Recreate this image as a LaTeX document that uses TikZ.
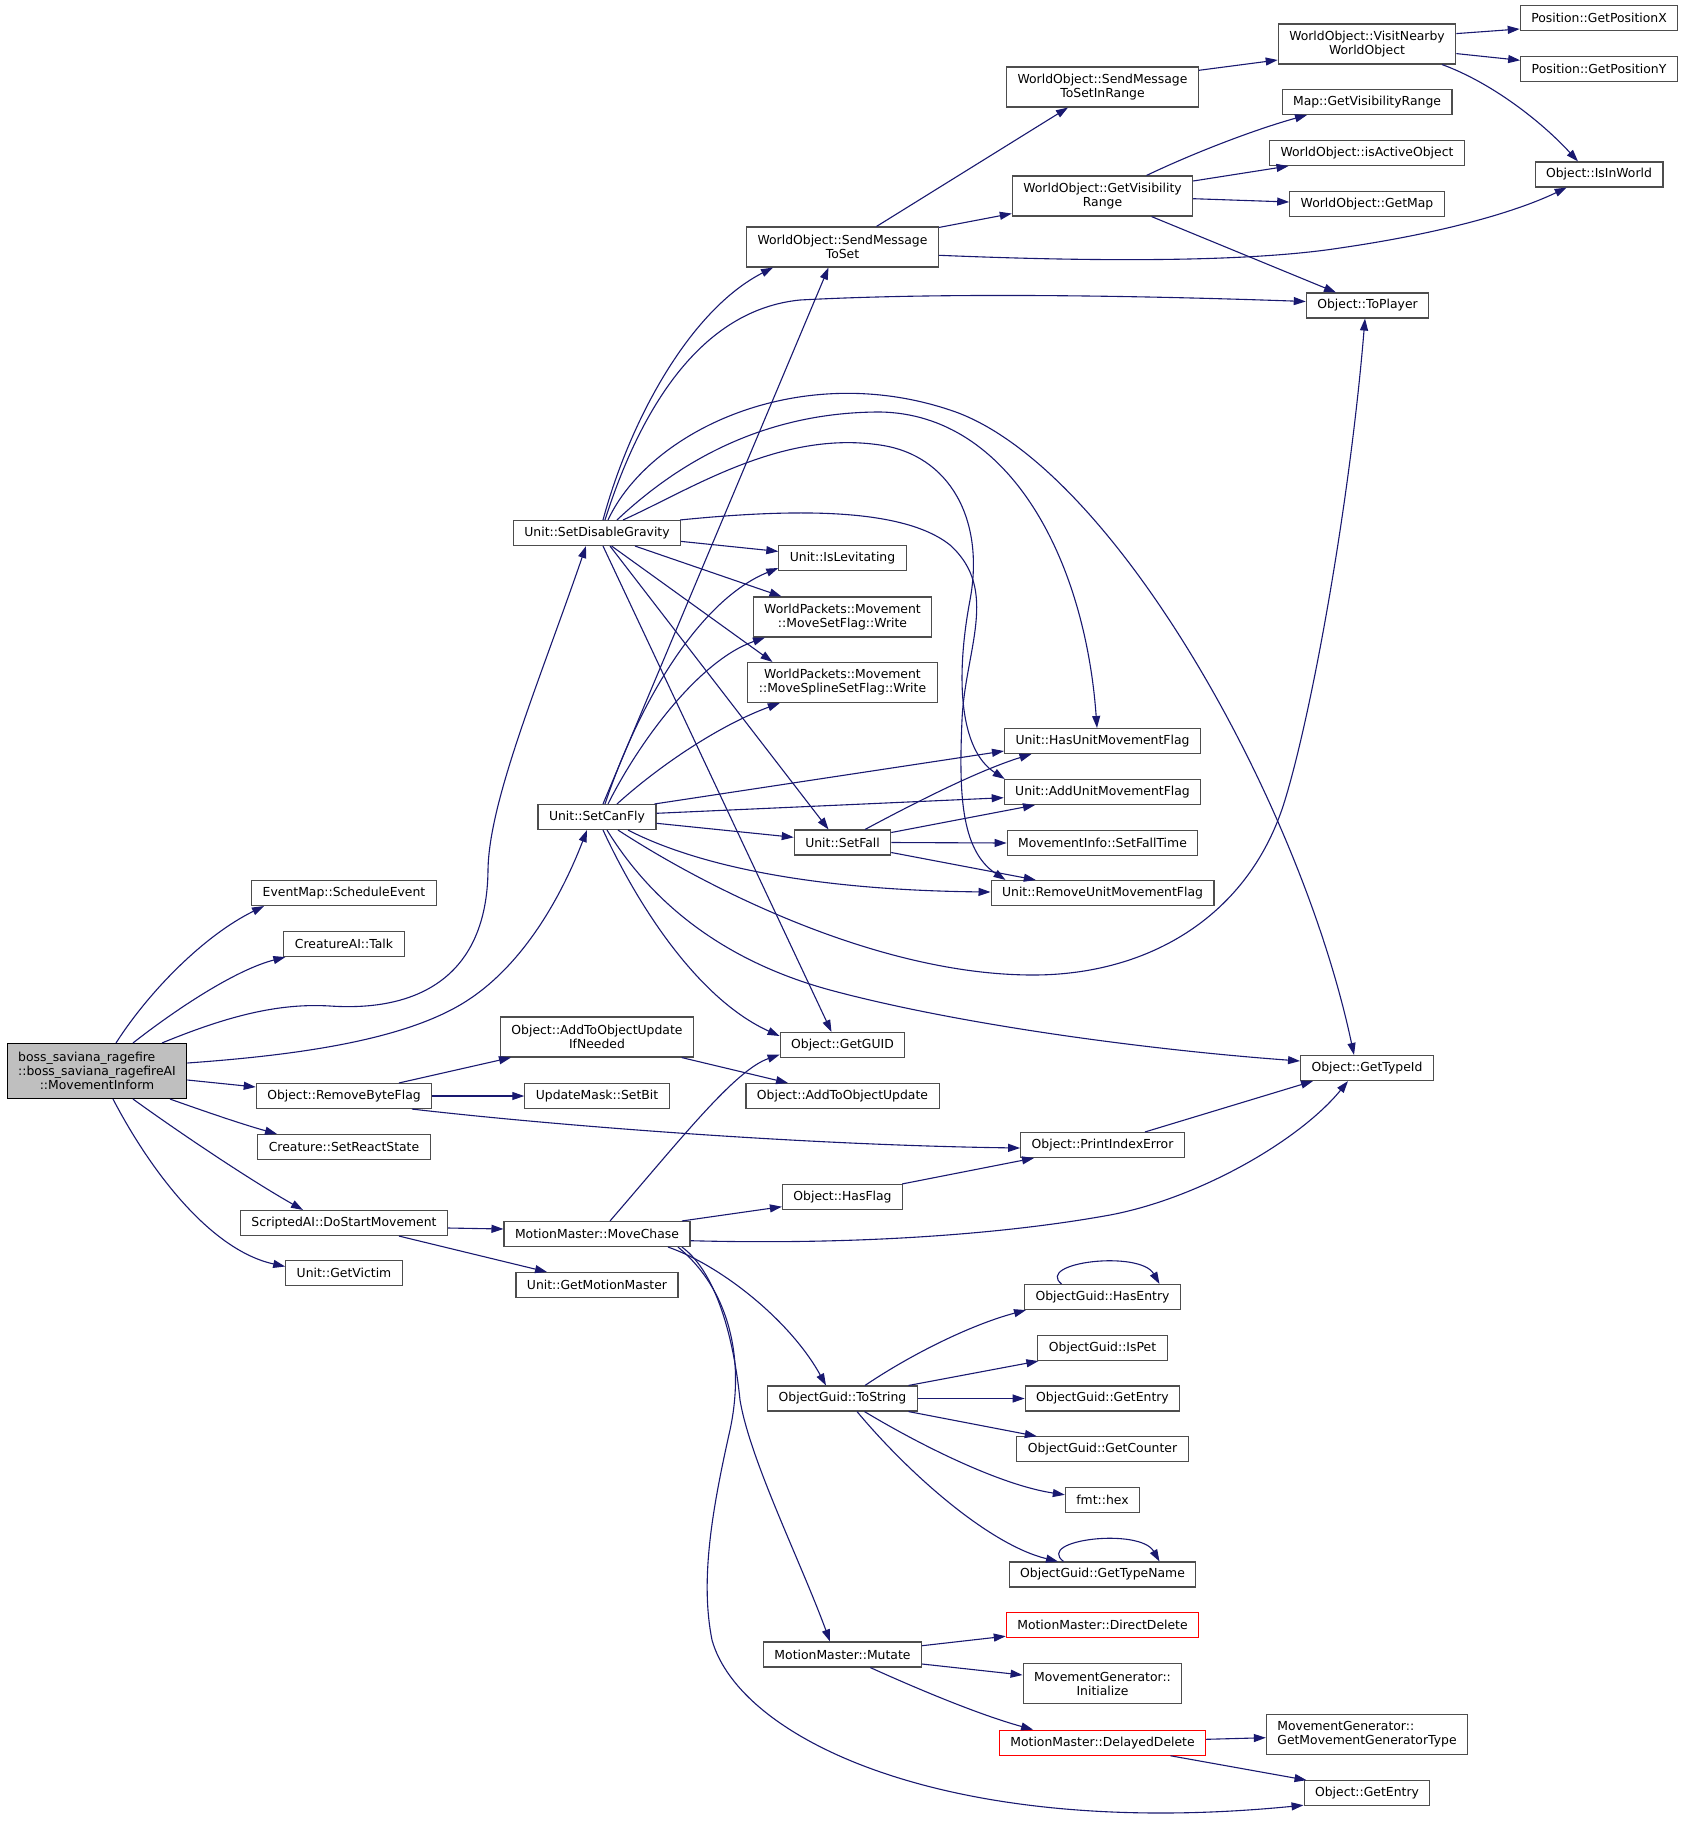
\documentclass[tikz,border=0pt]{standalone}
\usepackage{fontspec}
\setmainfont{DejaVu Sans}
\usepackage{calc}
\usetikzlibrary{arrows.meta}
\definecolor{edgec}{HTML}{191970}
\definecolor{nodeb}{HTML}{4D4D4D}
\definecolor{mainf}{HTML}{BFBFBF}
\tikzset{
  box/.style={draw=nodeb, line width=1.1pt, fill=white, inner xsep=11pt, inner ysep=1pt,
    minimum height=25pt, font=\fontsize{12.4}{14}\selectfont, align=center},
  boxtwo/.style={box, minimum height=40pt},
  redbox/.style={box, draw=red},
  mainbox/.style={box, fill=mainf, draw=black, minimum height=55pt},
  e/.style={draw=edgec, line width=1.1pt, -{Triangle[length=12pt,width=8pt]}},
}
\begin{document}
\begin{tikzpicture}[x=1pt,y=-1pt]
\fill[white] (0,0) rectangle (1685,1825);
\useasboundingbox (0,0) rectangle (1685,1825);
% column 0
\node[mainbox] (main) at (97,1071) {\makebox[\widthof{::boss\_saviana\_ragefireAI}][l]{boss\_saviana\_ragefire}\\::boss\_saviana\_ragefireAI\\::MovementInform};
% column 1
\node[box] (sched) at (344,893) {EventMap::ScheduleEvent};
\node[box] (talk) at (344,944) {CreatureAI::Talk};
\node[box] (rbf) at (344,1096) {Object::RemoveByteFlag};
\node[box] (srs) at (344,1147) {Creature::SetReactState};
\node[box] (dsm) at (344,1223) {ScriptedAI::DoStartMovement};
\node[box] (victim) at (344,1273) {Unit::GetVictim};
% column 2
\node[box] (sdg) at (597,533) {Unit::SetDisableGravity};
\node[box] (scf) at (597,817) {Unit::SetCanFly};
\node[boxtwo] (atoui) at (597,1037) {Object::AddToObjectUpdate\\IfNeeded};
\node[box] (setbit) at (597,1096) {UpdateMask::SetBit};
\node[box] (mc) at (597,1234) {MotionMaster::MoveChase};
\node[box] (gmm) at (597,1285) {Unit::GetMotionMaster};
% column 3
\node[boxtwo] (smts) at (842.5,247) {WorldObject::SendMessage\\ToSet};
\node[box] (isLev) at (842.5,558) {Unit::IsLevitating};
\node[boxtwo] (msf) at (842.5,617) {WorldPackets::Movement\\::MoveSetFlag::Write};
\node[boxtwo] (mssf) at (842.5,682.5) {WorldPackets::Movement\\::MoveSplineSetFlag::Write};
\node[box] (sf) at (842.5,842.5) {Unit::SetFall};
\node[box] (guid) at (842.5,1045) {Object::GetGUID};
\node[box] (atou) at (842.5,1096) {Object::AddToObjectUpdate};
\node[box] (hasflag) at (842.5,1197) {Object::HasFlag};
\node[box] (tostr) at (842.5,1398.5) {ObjectGuid::ToString};
\node[box] (mutate) at (842.5,1654.5) {MotionMaster::Mutate};
% column 4
\node[boxtwo] (smir) at (1102.5,87) {WorldObject::SendMessage\\ToSetInRange};
\node[boxtwo] (gvr) at (1102.5,196) {WorldObject::GetVisibility\\Range};
\node[box] (hum) at (1102.5,741) {Unit::HasUnitMovementFlag};
\node[box] (aum) at (1102.5,792) {Unit::AddUnitMovementFlag};
\node[box] (sft) at (1102.5,843) {MovementInfo::SetFallTime};
\node[box] (rum) at (1102.5,893) {Unit::RemoveUnitMovementFlag};
\node[box] (pie) at (1102.5,1145) {Object::PrintIndexError};
\node[box] (hasE) at (1102.5,1297) {ObjectGuid::HasEntry};
\node[box] (isPet) at (1102.5,1348) {ObjectGuid::IsPet};
\node[box] (gEntry) at (1102.5,1398.5) {ObjectGuid::GetEntry};
\node[box] (gCounter) at (1102.5,1449.3) {ObjectGuid::GetCounter};
\node[box] (hex) at (1102.5,1499.8) {fmt::hex};
\node[box] (gTN) at (1102.5,1574.5) {ObjectGuid::GetTypeName};
\node[redbox] (dDel) at (1102.5,1625.2) {MotionMaster::DirectDelete};
\node[boxtwo] (init) at (1102.5,1683.8) {MovementGenerator::\\Initialize};
\node[redbox] (delD) at (1102.5,1742.7) {MotionMaster::DelayedDelete};
% column 5
\node[boxtwo] (vn) at (1367,44) {WorldObject::VisitNearby\\WorldObject};
\node[box] (mapGVR) at (1367,102) {Map::GetVisibilityRange};
\node[box] (isAct) at (1367,153) {WorldObject::isActiveObject};
\node[box] (getMap) at (1367,204) {WorldObject::GetMap};
\node[box] (toPl) at (1367.5,305.5) {Object::ToPlayer};
\node[box] (typeId) at (1367,1068) {Object::GetTypeId};
\node[boxtwo, align=left] (mgType) at (1367,1734.3) {MovementGenerator::\\GetMovementGeneratorType};
\node[box] (objGE) at (1367,1793.2) {Object::GetEntry};
% column 6
\node[box] (pX) at (1599,18) {Position::GetPositionX};
\node[box] (pY) at (1599,69) {Position::GetPositionY};
\node[box] (inW) at (1599,174.5) {Object::IsInWorld};

% ---- edges from main
\draw[e] ([xshift=19pt]main.north) .. controls (150,990) and (205,935) .. ([xshift=-80pt]sched.south);
\draw[e] ([xshift=36pt]main.north) .. controls (175,1010) and (235,970) .. ([xshift=2pt]talk.south west);
\draw[e] ([xshift=65pt]main.north) .. controls (230,1015) and (280,1003) .. (330,1006) .. controls (420,1012) and (487,975) .. (488,870) .. controls (489,800) and (540,680) .. ([xshift=-11pt]sdg.south);
\draw[e] ([yshift=8pt]main.east) .. controls (300,1055) and (400,1040) .. (460,1005) .. controls (520,970) and (560,900) .. ([xshift=-10pt]scf.south);
\draw[e] ([yshift=-9pt]main.east) -- ([yshift=9pt]rbf.west);
\draw[e] ([xshift=73pt]main.south) .. controls (215,1115) and (245,1125) .. ([xshift=-67pt]srs.north);
\draw[e] ([xshift=36pt]main.south) .. controls (180,1133) and (250,1180) .. ([xshift=-41pt]dsm.north);
\draw[e] ([xshift=16pt]main.south) .. controls (150,1170) and (210,1250) .. ([yshift=6.5pt]victim.west);

% ---- edges from SetDisableGravity
\draw[e] ([xshift=6pt]sdg.north) .. controls (630,420) and (690,310) .. ([xshift=-69.5pt]smts.south);
\draw[e] ([xshift=8pt]sdg.north) .. controls (640,410) and (700,310) .. (800,300) .. controls (950,292) and (1150,296) .. ([yshift=4pt]toPl.west);
\draw[e] ([xshift=11pt]sdg.north) .. controls (650,430) and (800,360) .. (950,410) .. controls (1110,462) and (1300,800) .. ([xshift=-13pt]typeId.north);
\draw[e] ([xshift=20pt]sdg.north) .. controls (665,475) and (750,412) .. (880,412) .. controls (1010,414) and (1085,560) .. ([xshift=-5.5pt]hum.north);
\draw[e] ([xshift=26pt]sdg.north) .. controls (690,490) and (780,430) .. (880,445) .. controls (950,455) and (985,520) .. (970,600) .. controls (955,680) and (960,750) .. ([xshift=1pt]aum.north west);
\draw[e] ([xshift=-1pt]sdg.north east) .. controls (780,510) and (900,505) .. (950,545) .. controls (1000,590) and (965,650) .. (962,720) .. controls (959,790) and (960,850) .. ([xshift=15pt]rum.north west);
\draw[e] ([yshift=-8.4pt]sdg.east) -- ([yshift=6.6pt]isLev.west);
\draw[e] ([xshift=38pt]sdg.south) -- ([xshift=-61pt]msf.north);
\draw[e] ([xshift=14.6pt]sdg.south) -- ([xshift=-70pt]mssf.north);
\draw[e] ([xshift=13pt]sdg.south) -- ([xshift=-14pt]sf.north);
\draw[e] ([xshift=6pt]sdg.south) -- ([xshift=-11pt]guid.north);

% ---- edges from SetCanFly
\draw[e] ([xshift=6pt]scf.north) -- ([xshift=-14pt]smts.south);
\draw[e] ([xshift=8pt]scf.north) .. controls (640,700) and (700,600) .. ([yshift=-10pt]isLev.west);
\draw[e] ([xshift=11pt]scf.north) .. controls (640,740) and (700,660) .. ([xshift=-77.5pt]msf.south);
\draw[e] ([xshift=20pt]scf.north) .. controls (660,765) and (720,725) .. ([xshift=-62.7pt]mssf.south);
\draw[e] ([xshift=-2pt]scf.north east) -- ([yshift=-10pt]hum.west);
\draw[e] ([yshift=3.7pt]scf.east) -- ([yshift=-5.7pt]aum.west);
\draw[e] ([yshift=-6.3pt]scf.east) -- ([yshift=5.2pt]sf.west);
\draw[e] ([xshift=31pt]scf.south) .. controls (690,862) and (800,890) .. ([yshift=1pt]rum.west);
\draw[e] ([xshift=6pt]scf.south) .. controls (640,910) and (700,1000) .. ([yshift=9pt]guid.west);
\draw[e] ([xshift=10pt]scf.south) .. controls (650,900) and (720,960) .. (830,990) .. controls (960,1025) and (1150,1050) .. ([yshift=7pt]typeId.west);
\draw[e] ([xshift=21pt]scf.south) .. controls (710,890) and (880,975) .. (1033,975) .. controls (1150,975) and (1250,915) .. (1285,800) .. controls (1313,708) and (1350,500) .. ([xshift=-2.5pt]toPl.south);

% ---- edges from SetFall
\draw[e] ([xshift=22.5pt]sf.north) .. controls (920,800) and (980,770) .. ([xshift=-71pt]hum.south);
\draw[e] ([yshift=10pt]sf.east) -- ([xshift=-67.5pt]aum.south);
\draw[e] (sf.east) -- (sft.west);
\draw[e] ([yshift=-10pt]sf.east) -- ([xshift=-66.7pt]rum.north);

% ---- edges from SendMessageToSet and friends
\draw[e] ([xshift=34pt]smts.north) -- ([xshift=-34.5pt]smir.south);
\draw[e] ([yshift=-1pt]smts.north east) -- ([yshift=3pt]gvr.south west);
\draw[e] ([yshift=-8.3pt]smts.east) .. controls (1100,262) and (1250,262) .. (1340,248) .. controls (1450,232) and (1520,210) .. ([xshift=-32.3pt]inW.south);
\draw[e] ([yshift=16.7pt]smir.east) -- ([yshift=-16pt]vn.west);
\draw[e] ([yshift=10.4pt]vn.east) -- ([yshift=-11pt]pX.west);
\draw[e] ([yshift=-9.6pt]vn.east) -- ([yshift=8.7pt]pY.west);
\draw[e] ([xshift=75pt]vn.south) .. controls (1490,82) and (1540,120) .. ([xshift=-21pt]inW.north);
\draw[e] ([xshift=44pt]gvr.north) .. controls (1200,150) and (1260,128) .. ([xshift=-60pt]mapGVR.south);
\draw[e] ([yshift=15pt]gvr.east) -- ([xshift=-78.5pt]isAct.south);
\draw[e] ([yshift=-2.7pt]gvr.east) -- ([yshift=2pt]getMap.west);
\draw[e] ([xshift=49pt]gvr.south) -- ([xshift=-31.5pt]toPl.north);

% ---- RemoveByteFlag etc
\draw[e] ([xshift=55pt]rbf.north) -- ([xshift=-86pt]atoui.south);
\draw[e] (rbf.east) -- (setbit.west);
\draw[e] ([xshift=68pt]rbf.south) .. controls (550,1125) and (800,1145) .. ([yshift=-3pt]pie.west);
\draw[e] ([xshift=84.7pt]atoui.south) -- ([xshift=-54.5pt]atou.north);
\draw[e] ([xshift=42.5pt]pie.north) -- ([xshift=-54pt]typeId.south);
\draw[e] ([xshift=-1pt]hasflag.north east) -- ([xshift=-68.5pt]pie.south);

% ---- DoStartMovement / MoveChase
\draw[e] ([yshift=-5pt]dsm.east) -- ([yshift=5pt]mc.west);
\draw[e] ([xshift=55pt]dsm.south) -- ([xshift=-50pt]gmm.north);
\draw[e] ([xshift=13pt]mc.north) .. controls (680,1140) and (735,1070) .. ([yshift=-9.7pt]guid.west);
\draw[e] ([xshift=85pt]mc.north) -- ([yshift=-9.7pt]hasflag.west);
\draw[e] ([yshift=-6.7pt]mc.east) .. controls (850,1245) and (1000,1235) .. (1110,1215) .. controls (1200,1198) and (1300,1140) .. ([xshift=-19pt]typeId.south);
\draw[e] ([xshift=71pt]mc.south) .. controls (720,1265) and (790,1320) .. ([xshift=-16.5pt]tostr.north);
\draw[e] ([xshift=85pt]mc.south) .. controls (720,1275) and (735,1350) .. (740,1400) .. controls (750,1460) and (800,1560) .. ([xshift=-12.5pt]mutate.north);
\draw[e] ([xshift=81pt]mc.south) .. controls (730,1290) and (745,1360) .. (730,1430) .. controls (712,1510) and (700,1580) .. (712,1640) .. controls (740,1740) and (950,1840) .. ([yshift=-12pt]objGE.west);

% ---- ToString
\draw[e] ([xshift=22.5pt]tostr.north) .. controls (910,1355) and (970,1325) .. ([xshift=2pt]hasE.south west);
\draw[e] ([xshift=66pt]tostr.north) -- ([xshift=1pt]isPet.south west);
\draw[e] (tostr.east) -- (gEntry.west);
\draw[e] ([xshift=66pt]tostr.south) -- ([xshift=-65.7pt]gCounter.north);
\draw[e] ([xshift=22pt]tostr.south) .. controls (920,1445) and (1000,1485) .. ([yshift=5pt]hex.west);
\draw[e] ([xshift=14.5pt]tostr.south) .. controls (910,1475) and (990,1545) .. ([xshift=-44.5pt]gTN.north);
\draw[e] ([xshift=-41pt]hasE.north) .. controls (1035,1262) and (1140,1250) .. ([xshift=57pt]hasE.north);
\draw[e] ([xshift=-39pt]gTN.north) .. controls (1035,1539.5) and (1140,1527.5) .. ([xshift=57pt]gTN.north);

% ---- Mutate
\draw[e] ([yshift=8.8pt]mutate.east) -- ([yshift=-11pt]dDel.west);
\draw[e] ([yshift=-9.5pt]mutate.east) -- ([yshift=8.8pt]init.west);
\draw[e] ([xshift=27.8pt]mutate.south) .. controls (920,1690) and (980,1715) .. ([xshift=-69.4pt]delD.north);
\draw[e] ([yshift=3.4pt]delD.east) -- ([yshift=-3.4pt]mgType.west);
\draw[e] ([xshift=68pt]delD.south) -- ([xshift=3pt]objGE.north west);
\end{tikzpicture}
\end{document}
